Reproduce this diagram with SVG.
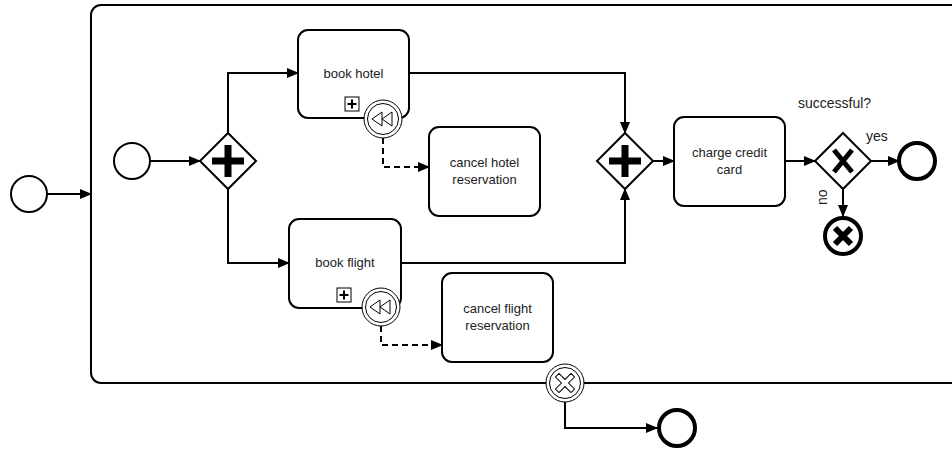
<svg xmlns="http://www.w3.org/2000/svg" width="952" height="451" viewBox="0 0 952 451">
<defs>
<marker id="arr" viewBox="0 0 12 10" refX="11" refY="5" markerWidth="12" markerHeight="10" markerUnits="userSpaceOnUse" orient="auto">
<path d="M0,0 L12,5 L0,10 Z" fill="#000"/>
</marker>
<marker id="arrOpen" viewBox="0 0 12 10" refX="11" refY="5" markerWidth="12" markerHeight="10" markerUnits="userSpaceOnUse" orient="auto">
<path d="M0,0 L12,5 L0,10 Z" fill="#000"/>
</marker>
</defs>
<style>
.task{fill:#fff;stroke:#000;stroke-width:2}
.ev{fill:#fff;stroke:#000;stroke-width:2}
.end{fill:#fff;stroke:#000;stroke-width:4}
.gw{fill:#fff;stroke:#000;stroke-width:2}
.flow{fill:none;stroke:#000;stroke-width:2;marker-end:url(#arr)}
.assoc{fill:none;stroke:#000;stroke-width:2;stroke-dasharray:6 4;marker-end:url(#arrOpen)}
.lbl{font-family:"Liberation Sans",Arial,sans-serif;font-size:13px;fill:#222;text-anchor:middle}
.ext{font-family:"Liberation Sans",Arial,sans-serif;font-size:14px;fill:#222}
.bnd{fill:#fff;stroke:#000;stroke-width:1}
</style>
<rect width="952" height="451" fill="#fff"/>

<g id="subprocess">
<rect x="91" y="5" width="900" height="378" rx="10" ry="10" fill="#fff" stroke="#000" stroke-width="2"/>
</g>

<g id="connectors">
<path class="flow" d="M47,194 L91,194"/>
<path class="flow" d="M150,161 L200,161"/>
<path class="flow" d="M228,133 L228,73 L298,73"/>
<path class="flow" d="M228,189 L228,263 L289,263"/>
<path class="flow" d="M409,73 L625,73 L625,133"/>
<path class="flow" d="M401,263 L625,263 L625,189"/>
<path class="flow" d="M653,161 L674,161"/>
<path class="flow" d="M785,161 L815,161"/>
<path class="flow" d="M871,161 L899,161"/>
<path class="flow" d="M843,189 L843,216"/>
<path class="flow" d="M565,402 L565,428 L657,428"/>
<path class="assoc" d="M383,138 L383,167 L429,167"/>
<path class="assoc" d="M381,326 L381,345 L442,345"/>
</g>

<g id="outerStart">
<circle class="ev" cx="29" cy="194" r="18"/>
</g>

<g id="innerStart">
<circle class="ev" cx="132" cy="161" r="18"/>
</g>

<g id="fork">
<path class="gw" d="M228,133 L256,161 L228,189 L200,161 Z"/>
<path d="M224.5,145 h7 v12.5 h12.5 v7 h-12.5 v12.5 h-7 v-12.5 h-12.5 v-7 h12.5 Z" fill="#000"/>
</g>

<g id="bookHotel">
<rect class="task" x="298" y="30" width="111" height="88" rx="10" ry="10"/>
<text class="lbl" x="353.5" y="78">book hotel</text>
<rect x="345" y="97" width="14" height="14" fill="#fff" stroke="#000" stroke-width="1"/>
<path d="M352,99.5 v9 M347.5,104 h9" stroke="#000" stroke-width="2"/>
</g>

<g id="compHotel">
<circle class="bnd" cx="383" cy="119" r="19"/>
<circle class="bnd" cx="383" cy="119" r="15.5"/>
<path d="M372,119 L382,112 L382,126 Z M382,119 L392,112 L392,126 Z" fill="none" stroke="#000" stroke-width="1"/>
</g>

<g id="cancelHotel">
<rect class="task" x="429" y="127" width="111" height="89" rx="10" ry="10"/>
<text class="lbl" x="484.5" y="167">cancel hotel</text>
<text class="lbl" x="484.5" y="184">reservation</text>
</g>

<g id="bookFlight">
<rect class="task" x="289" y="219" width="112" height="89" rx="10" ry="10"/>
<text class="lbl" x="345" y="267">book flight</text>
<rect x="337" y="288" width="14" height="14" fill="#fff" stroke="#000" stroke-width="1"/>
<path d="M344,290.5 v9 M339.5,295 h9" stroke="#000" stroke-width="2"/>
</g>

<g id="compFlight">
<circle class="bnd" cx="381" cy="307" r="19"/>
<circle class="bnd" cx="381" cy="307" r="15.5"/>
<path d="M370,307 L380,300 L380,314 Z M380,307 L390,300 L390,314 Z" fill="none" stroke="#000" stroke-width="1"/>
</g>

<g id="cancelFlight">
<rect class="task" x="442" y="273" width="111" height="89" rx="10" ry="10"/>
<text class="lbl" x="497.5" y="313">cancel flight</text>
<text class="lbl" x="497.5" y="330">reservation</text>
</g>

<g id="join">
<path class="gw" d="M625,133 L653,161 L625,189 L597,161 Z"/>
<path d="M621.5,145 h7 v12.5 h12.5 v7 h-12.5 v12.5 h-7 v-12.5 h-12.5 v-7 h12.5 Z" fill="#000"/>
</g>

<g id="charge">
<rect class="task" x="674" y="117" width="111" height="89" rx="10" ry="10"/>
<text class="lbl" x="729.5" y="157">charge credit</text>
<text class="lbl" x="729.5" y="174">card</text>
</g>

<g id="xor">
<path class="gw" d="M843,133 L871,161 L843,189 L815,161 Z"/>
<path d="M834,150 L852,172 M852,150 L834,172" stroke="#000" stroke-width="5"/>
<text class="ext" x="798" y="108">successful?</text>
<text class="ext" x="866" y="141">yes</text>
<text class="ext" transform="translate(827,205) rotate(-90)">no</text>
</g>

<g id="endOk">
<circle class="end" cx="917" cy="161" r="18"/>
</g>

<g id="cancelEnd">
<circle class="end" cx="843" cy="236" r="18"/>
<path d="M835,228 L851,244 M851,228 L835,244" stroke="#000" stroke-width="6"/>
</g>

<g id="cancelBoundary">
<circle class="bnd" cx="565" cy="383" r="19"/>
<circle class="bnd" cx="565" cy="383" r="15.5"/>
<path transform="translate(565,383) rotate(45)" d="M-2.5,-11 h5 v8.5 h8.5 v5 h-8.5 v8.5 h-5 v-8.5 h-8.5 v-5 h8.5 Z" fill="#fff" stroke="#000" stroke-width="1"/>
</g>

<g id="endCancel">
<circle class="end" cx="677" cy="428" r="18"/>
</g>
</svg>
